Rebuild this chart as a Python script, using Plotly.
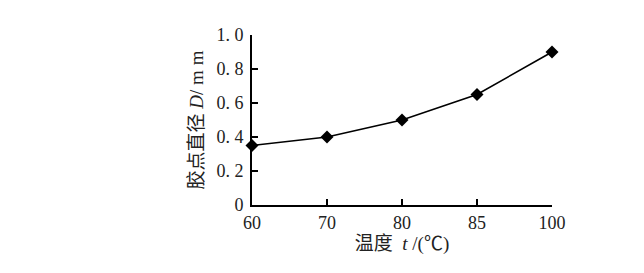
import plotly.graph_objects as go

temps = ["60", "70", "80", "85", "100"]
diameter = [0.35, 0.40, 0.50, 0.65, 0.90]
y_ticks = [0, 0.2, 0.4, 0.6, 0.8, 1.0]
y_tick_labels = ["0", "0. 2", "0. 4", "0. 6", "0. 8", "1. 0"]

serif = "Liberation Serif, Noto Sans CJK SC, serif"

fig = go.Figure()
fig.add_trace(go.Scatter(
    x=temps, y=diameter, mode="lines+markers",
    line=dict(color="black", width=1.6),
    marker=dict(symbol="diamond", size=10, color="black"),
    cliponaxis=False, showlegend=False,
))

fig.update_layout(
    width=644, height=273,
    margin=dict(l=252, r=92, t=35, b=68),
    paper_bgcolor="white", plot_bgcolor="white",
    font=dict(family=serif, color="#222", size=18),
    xaxis=dict(
        type="category", range=[0, 4],
        showline=True, linecolor="black", linewidth=2,
        ticks="inside", ticklen=6, tickwidth=1.5, tickcolor="black",
        showgrid=False, zeroline=False,
        tickfont=dict(family=serif, size=18, color="#222"),
        title=dict(text="温度  <i>t</i> /(℃)", font=dict(family=serif, size=19, color="#222"), standoff=3),
    ),
    yaxis=dict(
        range=[0, 1.0], tickvals=y_ticks, ticktext=y_tick_labels,
        showline=True, linecolor="black", linewidth=2,
        ticks="inside", ticklen=6, tickwidth=1.5, tickcolor="black",
        showgrid=False, zeroline=False,
        tickfont=dict(family=serif, size=18, color="#222"),
        ticklabelstandoff=3,
        title=dict(text="胶点直径 <i>D</i>/ m m", font=dict(family=serif, size=19, color="#222"), standoff=8),
    ),
)

fig.write_html("out.html")
